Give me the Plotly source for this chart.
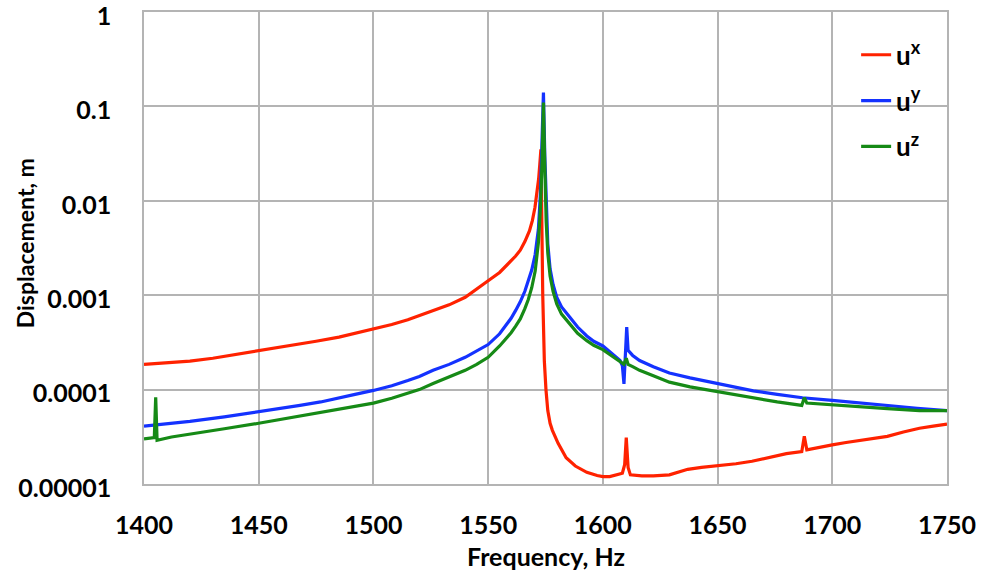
import plotly.graph_objects as go

# ---- data ----
ux_f = [1400, 1410, 1420, 1430, 1440, 1450, 1460, 1468, 1475, 1485, 1492, 1500, 1508, 1515,
        1520, 1526, 1533, 1540, 1545, 1550, 1555, 1558, 1560, 1562, 1564, 1566, 1568, 1569.3,
        1570.4, 1571.3, 1572, 1572.5, 1573.0, 1573.8, 1574.5, 1575.2, 1576, 1577, 1578, 1580.5,
        1584, 1588, 1593, 1597.5, 1600, 1603, 1606, 1608.5, 1609.5, 1610.2, 1611, 1612, 1617,
        1622, 1629, 1633, 1637, 1643, 1650, 1658, 1665, 1672, 1680, 1686.7, 1687.8, 1688.9,
        1694, 1700, 1706, 1712, 1718, 1724, 1731, 1738, 1744, 1750]
ux_v = [1.85e-4, 1.92e-4, 2.0e-4, 2.15e-4, 2.35e-4, 2.6e-4, 2.8e-4, 3.0e-4, 3.25e-4, 3.6e-4,
        3.95e-4, 4.4e-4, 4.9e-4, 5.5e-4, 6.1e-4, 6.9e-4, 7.9e-4, 9.5e-4, 1.15e-3, 1.42e-3,
        1.74e-3, 2.05e-3, 2.3e-3, 2.6e-3, 3.0e-3, 3.7e-3, 4.8e-3, 6.2e-3, 8.5e-3, 1.2e-2,
        1.7e-2, 2.4e-2, 3.5e-2, 1.0e-3, 2.0e-4, 1.0e-4, 6.0e-5, 4.4e-5, 3.7e-5, 2.7e-5,
        1.9e-5, 1.55e-5, 1.33e-5, 1.23e-5, 1.2e-5, 1.2e-5, 1.24e-5, 1.3e-5, 1.6e-5, 3.1e-5,
        1.5e-5, 1.25e-5, 1.22e-5, 1.22e-5, 1.25e-5, 1.35e-5, 1.43e-5, 1.5e-5, 1.55e-5, 1.64e-5,
        1.74e-5, 1.9e-5, 2.1e-5, 2.2e-5, 3.2e-5, 2.3e-5, 2.45e-5, 2.6e-5, 2.75e-5, 2.9e-5,
        3.05e-5, 3.2e-5, 3.55e-5, 3.9e-5, 4.1e-5, 4.3e-5]

uy_f = [1400, 1410, 1420, 1435, 1450, 1460, 1468, 1477, 1485, 1492, 1500, 1508, 1515, 1520,
        1526, 1533, 1540, 1545, 1550, 1555, 1558, 1560, 1562, 1564, 1566, 1567.5, 1569, 1570.5,
        1571.9, 1572.8, 1573.5, 1574.1, 1574.7, 1575.3, 1576, 1577, 1578.3, 1579.9, 1582,
        1585.7, 1589, 1593, 1596, 1600, 1604, 1607.5, 1608.5, 1609.2, 1610.4, 1611, 1613,
        1616, 1622, 1629, 1638, 1650, 1658, 1665.6, 1676, 1687, 1700, 1712, 1724, 1737, 1750]
uy_v = [4.1e-5, 4.35e-5, 4.6e-5, 5.15e-5, 5.8e-5, 6.3e-5, 6.8e-5, 7.4e-5, 8.1e-5, 8.9e-5,
        9.8e-5, 1.1e-4, 1.25e-4, 1.38e-4, 1.6e-4, 1.85e-4, 2.2e-4, 2.55e-4, 3.0e-4, 3.9e-4,
        4.9e-4, 5.7e-4, 6.9e-4, 8.5e-4, 1.1e-3, 1.4e-3, 1.85e-3, 2.7e-3, 5.0e-3, 1.2e-2,
        3.5e-2, 1.4e-1, 3.0e-2, 8.0e-3, 3.5e-3, 1.9e-3, 1.3e-3, 9.5e-4, 7.5e-4, 5.8e-4,
        4.6e-4, 3.7e-4, 3.25e-4, 2.9e-4, 2.4e-4, 2.03e-4, 1.8e-4, 1.15e-4, 4.6e-4, 2.6e-4,
        2.3e-4, 2.03e-4, 1.75e-4, 1.5e-4, 1.33e-4, 1.16e-4, 1.05e-4, 9.7e-5, 8.9e-5, 8.2e-5,
        7.7e-5, 7.2e-5, 6.8e-5, 6.35e-5, 6.0e-5]

uz_f = [1400, 1404.5, 1405.1, 1405.7, 1412, 1420, 1435, 1450, 1460, 1468, 1477, 1485, 1492,
        1500, 1508, 1515, 1520, 1526, 1533, 1540, 1545, 1550, 1555, 1558, 1560, 1562, 1564,
        1566, 1567.5, 1569, 1570.5, 1571.9, 1572.8, 1573.5, 1574.1, 1574.7, 1575.3, 1576, 1577,
        1578.3, 1579.9, 1582, 1585.7, 1589, 1593, 1596, 1600, 1604, 1607.5, 1609.2, 1610.2,
        1611, 1613, 1616, 1622, 1629, 1638, 1650, 1658, 1665.6, 1676, 1686.7, 1687.8, 1688.9,
        1694, 1700, 1712, 1724, 1738, 1750]
uz_v = [3.0e-5, 3.1e-5, 8.3e-5, 2.9e-5, 3.15e-5, 3.4e-5, 3.85e-5, 4.4e-5, 4.85e-5, 5.3e-5,
        5.75e-5, 6.2e-5, 6.7e-5, 7.2e-5, 8.1e-5, 9.1e-5, 1.0e-4, 1.16e-4, 1.35e-4, 1.6e-4,
        1.85e-4, 2.2e-4, 2.9e-4, 3.5e-4, 4.0e-4, 4.7e-4, 5.6e-4, 7.2e-4, 9.0e-4, 1.2e-3,
        1.8e-3, 3.6e-3, 8.5e-3, 2.6e-2, 1.1e-1, 2.3e-2, 6.0e-3, 2.8e-3, 1.6e-3, 1.1e-3,
        8.1e-4, 6.3e-4, 4.9e-4, 3.95e-4, 3.3e-4, 2.95e-4, 2.65e-4, 2.25e-4, 1.98e-4, 1.85e-4,
        2.15e-4, 1.85e-4, 1.75e-4, 1.6e-4, 1.4e-4, 1.2e-4, 1.07e-4, 9.5e-5, 8.8e-5, 8.2e-5,
        7.4e-5, 6.8e-5, 8.2e-5, 7.2e-5, 7.05e-5, 6.9e-5, 6.6e-5, 6.3e-5, 6.0e-5, 6.0e-5]

x_ticks = [1400, 1450, 1500, 1550, 1600, 1650, 1700, 1750]
y_tickvals = [1e-5, 1e-4, 1e-3, 1e-2, 1e-1, 1]
y_ticktext = ["0.00001", "0.0001", "0.001", "0.01", "0.1", "1"]

FONT = "Lato"
GRID = "#b4b4b4"

fig = go.Figure()
series = [
    ("u<sup>x</sup>", ux_f, ux_v, "#ff2200"),
    ("u<sup>y</sup>", uy_f, uy_v, "#1432ff"),
    ("u<sup>z</sup>", uz_f, uz_v, "#168a16"),
]
for i, (name, f, v, c) in enumerate(series):
    fig.add_trace(go.Scatter(x=f, y=v, mode="lines", name=name,
                             line=dict(color=c, width=3.2), legendgroup=str(i)))

fig.update_layout(
    width=983, height=575,
    margin=dict(l=144, r=36, t=12, b=91, autoexpand=False),
    paper_bgcolor="white", plot_bgcolor="white",
    font=dict(family=FONT, size=24, color="black", weight="bold"),
    showlegend=True,
    legend=dict(x=0.974, y=0.959, xanchor="right", yanchor="top",
                font=dict(family=FONT, size=26, color="black", weight="bold"),
                bgcolor="rgba(0,0,0,0)", tracegroupgap=9, traceorder="grouped",
                itemwidth=30),
    xaxis=dict(range=[1400, 1750], tickvals=x_ticks, showgrid=True, gridcolor=GRID,
               gridwidth=1.5, showline=True, linecolor=GRID, linewidth=1.5, mirror=True,
               zeroline=False, ticks="", ticklabelstandoff=18, automargin=False,
               tickfont=dict(family=FONT, size=25, color="black", weight="bold")),
    yaxis=dict(type="log", range=[-5, 0], tickvals=y_tickvals, ticktext=y_ticktext,
               showgrid=True, gridcolor=GRID, gridwidth=1.5, showline=True, linecolor=GRID,
               linewidth=1.5, mirror=True, zeroline=False, ticks="", ticklabelstandoff=26,
               ticklabelshift=4, ticklabeloverflow="allow", automargin=False,
               tickfont=dict(family=FONT, size=25, color="black", weight="bold")),
    annotations=[
        dict(text="Frequency, Hz", xref="paper", yref="paper", x=0.5, y=0, yshift=-72,
             showarrow=False, xanchor="center", yanchor="middle",
             font=dict(family=FONT, size=25, color="black", weight="bold")),
        dict(text="Displacement, m", xref="paper", yref="paper", x=0, xshift=-119,
             y=0.51, textangle=-90, showarrow=False, xanchor="center", yanchor="middle",
             font=dict(family=FONT, size=23, color="black", weight="bold")),
    ],
)

fig.write_html("out.html")
